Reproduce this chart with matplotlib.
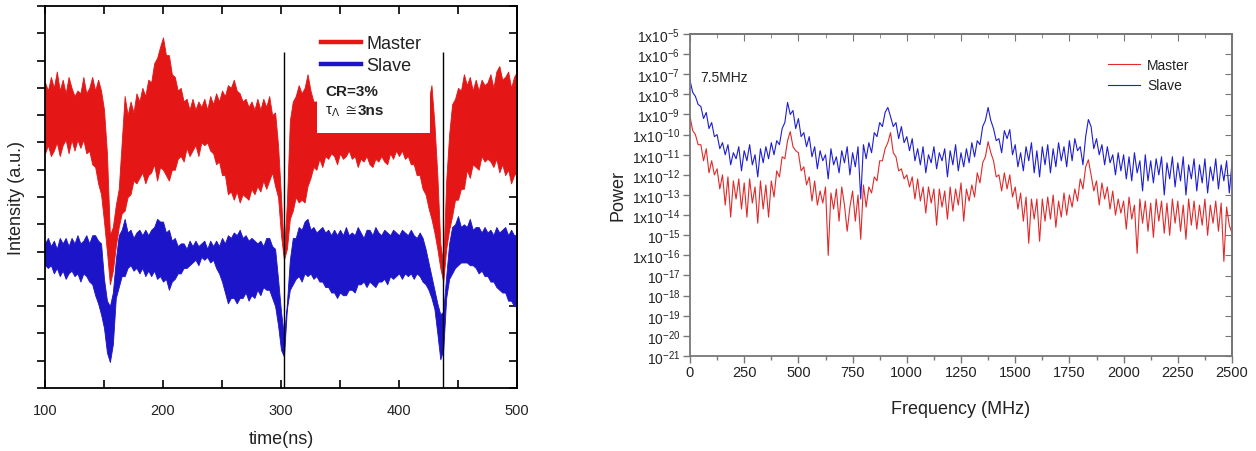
import numpy as np
import matplotlib
matplotlib.use("Agg")
import matplotlib.pyplot as plt
from matplotlib.lines import Line2D
from matplotlib.patches import Rectangle
from matplotlib.ticker import FixedLocator, MultipleLocator, NullFormatter, NullLocator

plt.rcParams['font.family'] = ['Liberation Sans', 'DejaVu Sans']
plt.rcParams['mathtext.fontset'] = 'custom'
plt.rcParams['mathtext.rm'] = 'Liberation Sans'
plt.rcParams['mathtext.it'] = 'Liberation Sans:italic'
plt.rcParams['mathtext.bf'] = 'Liberation Sans:bold'

# ---------------- left panel: time traces (envelopes of the noisy band, a.u.) ----------------
time_step_ns = 2.5
time_start_ns, time_end_ns = 100, 500

master_hi = [
    11.2, 10.9, 11.4, 11.0, 11.6, 10.9, 11.3, 10.8, 11.4, 11.0,
    10.7, 10.9, 10.8, 11.4, 10.8, 11.0, 11.4, 10.9, 11.3, 10.9,
    10.2, 8.6, 5.6, 5.9, 6.7, 7.3, 9.0, 10.7, 10.0, 10.5,
    10.1, 10.8, 10.5, 11.0, 10.7, 11.3, 11.2, 11.9, 12.1, 12.5,
    12.85, 12.2, 12.2, 11.5, 11.4, 10.9, 11.0, 10.5, 10.6, 10.2,
    10.6, 10.2, 10.5, 10.3, 10.6, 10.2, 10.7, 10.4, 10.8, 10.5,
    10.9, 10.7, 11.1, 11.0, 11.3, 10.9, 10.8, 10.5, 10.6, 10.3,
    10.5, 10.2, 10.6, 10.2, 10.6, 10.3, 10.7, 10.0, 10.1, 8.9,
    7.0, 4.9, 6.8, 9.8, 10.5, 10.7, 11.1, 10.8, 11.0, 11.5,
    10.9, 10.5, 10.5, 10.6, 10.4, 10.6, 10.4, 10.6, 10.4, 10.6,
    10.4, 10.6, 10.4, 10.6, 10.4, 10.6, 10.4, 10.6, 10.4, 10.6,
    10.4, 10.6, 10.4, 10.6, 10.4, 10.6, 10.4, 10.6, 10.4, 10.6,
    10.4, 10.6, 10.4, 10.6, 10.4, 10.6, 10.4, 10.6, 10.4, 10.6,
    10.5, 11.1, 9.7, 7.8, 5.3, 4.5, 7.6, 9.3, 10.4, 10.6,
    11.0, 10.9, 11.5, 11.1, 11.4, 10.9, 11.3, 10.9, 11.3, 11.1,
    11.2, 11.5, 11.0, 11.6, 11.8, 11.3, 11.4, 11.6, 11.0, 11.4,
    11.6]

master_lo = [
    8.6, 8.9, 8.5, 8.7, 9.0, 8.5, 8.9, 9.1, 8.6, 9.1,
    8.7, 9.1, 8.8, 9.1, 8.6, 8.7, 8.2, 8.1, 7.5, 7.1,
    6.1, 5.0, 3.8, 4.3, 5.2, 5.9, 6.4, 6.5, 7.0, 7.1,
    7.6, 7.5, 7.7, 7.9, 7.5, 7.8, 7.9, 8.2, 7.6, 8.1,
    8.0, 7.8, 7.6, 8.0, 8.0, 8.4, 8.5, 8.3, 8.8, 8.5,
    8.7, 8.9, 8.5, 9.0, 8.9, 9.0, 8.7, 8.6, 8.2, 8.3,
    7.8, 7.8, 7.1, 7.2, 6.9, 7.2, 6.8, 7.1, 7.0, 6.9,
    7.3, 7.1, 7.4, 7.2, 7.6, 7.3, 7.6, 7.9, 7.4, 7.0,
    5.6, 4.7, 5.1, 6.2, 6.5, 7.0, 6.8, 6.9, 6.8, 7.4,
    7.7, 8.1, 8.0, 8.4, 8.1, 8.5, 8.4, 8.6, 8.5, 8.2,
    8.6, 8.4, 8.5, 8.7, 8.4, 8.5, 8.1, 8.4, 8.3, 8.5,
    8.2, 8.1, 8.4, 8.3, 8.5, 8.3, 8.2, 8.6, 8.4, 8.7,
    8.5, 8.7, 8.4, 8.5, 8.2, 8.2, 7.8, 7.8, 7.3, 7.1,
    6.6, 6.2, 5.7, 5.1, 4.4, 3.9, 5.1, 5.8, 6.3, 6.9,
    6.9, 7.3, 7.3, 8.0, 7.7, 8.2, 8.1, 8.0, 8.5, 8.3,
    8.4, 8.3, 8.1, 8.4, 7.9, 8.2, 7.8, 8.0, 7.5, 7.8,
    7.9]

slave_hi = [
    5.3, 5.5, 5.2, 5.4, 5.1, 5.5, 5.3, 5.5, 5.2, 5.5,
    5.3, 5.6, 5.3, 5.4, 5.6, 5.3, 5.6, 5.6, 5.4, 5.3,
    4.0, 3.2, 3.0, 3.5, 4.7, 5.6, 5.8, 6.2, 5.7, 5.8,
    5.5, 5.7, 5.8, 5.6, 5.8, 5.6, 5.8, 5.9, 6.2, 6.1,
    6.1, 5.7, 5.8, 5.4, 5.5, 5.2, 5.3, 5.3, 5.1, 5.4,
    5.2, 5.4, 5.2, 5.3, 5.4, 5.1, 5.4, 5.2, 5.4, 5.2,
    5.5, 5.3, 5.6, 5.5, 5.7, 5.6, 5.8, 5.5, 5.6, 5.4,
    5.5, 5.4, 5.3, 5.4, 5.2, 5.5, 5.5, 5.2, 5.1, 4.0,
    2.8, 1.9, 3.1, 4.7, 5.5, 5.5, 5.9, 5.8, 6.1, 6.2,
    5.8, 5.9, 5.7, 5.8, 5.9, 5.7, 5.8, 5.6, 5.8, 5.6,
    5.8, 5.6, 5.9, 5.6, 5.7, 5.6, 5.9, 5.7, 5.5, 5.8,
    5.8, 5.6, 5.9, 5.7, 5.6, 5.8, 5.7, 5.6, 5.8, 5.7,
    5.6, 5.8, 5.7, 5.6, 5.8, 5.6, 5.5, 5.7, 5.5, 5.1,
    4.6, 4.1, 3.6, 3.1, 2.7, 2.8, 4.1, 5.3, 5.9, 6.0,
    6.3, 5.9, 6.0, 5.9, 6.2, 5.8, 5.9, 5.9, 5.7, 5.9,
    5.7, 5.8, 5.6, 5.9, 5.7, 5.8, 5.9, 5.6, 5.8, 5.6,
    5.6]

slave_lo = [
    4.5, 4.4, 4.5, 4.2, 4.4, 4.1, 4.3, 4.0, 4.2, 4.3,
    4.1, 4.2, 3.9, 4.2, 4.1, 3.9, 3.8, 3.4, 3.1, 2.7,
    2.2, 1.3, 0.95, 1.6, 3.3, 3.7, 4.1, 4.1, 4.4, 4.5,
    4.3, 4.4, 4.2, 4.4, 4.1, 4.3, 4.1, 4.3, 4.0, 4.1,
    3.9, 4.0, 3.6, 3.9, 4.0, 4.2, 4.2, 4.4, 4.4, 4.5,
    4.6, 4.7, 4.5, 4.8, 4.7, 4.8, 4.6, 4.7, 4.4, 4.2,
    3.9, 3.5, 3.1, 3.3, 3.3, 3.1, 3.3, 3.3, 3.5, 3.2,
    3.4, 3.3, 3.6, 3.4, 3.7, 3.6, 3.6, 3.3, 3.0, 2.3,
    1.4, 1.15, 2.9, 3.6, 3.8, 4.0, 4.1, 3.9, 4.2, 4.1,
    4.2, 4.0, 4.1, 3.9, 3.9, 3.7, 3.7, 3.5, 3.5, 3.3,
    3.5, 3.4, 3.4, 3.6, 3.6, 3.5, 3.8, 3.8, 3.9, 3.7,
    3.9, 3.8, 3.7, 3.9, 3.9, 4.0, 3.8, 4.1, 4.0, 4.1,
    4.2, 4.0, 4.2, 4.1, 4.2, 4.0, 4.2, 4.1, 3.9, 3.8,
    3.6, 3.3, 2.9, 2.0, 1.05, 1.4, 3.3, 4.0, 4.2, 4.4,
    4.5, 4.6, 4.6, 4.6, 4.5, 4.5, 4.4, 4.2, 4.3, 4.1,
    4.1, 3.9, 3.9, 3.7, 3.6, 3.5, 3.5, 3.2, 3.2, 3.0,
    3.0]

marker_times_ns = [302.6, 437.0]
marker_top = 12.3

# ---------------- right panel: power spectra (log10 of power), 12.5 MHz spacing ----------------
freq_max_mhz = 2500
slave_log = [
    -7.3, -7.9, -8.1, -8.5, -8.6, -9.2, -8.9, -9.7, -9.4, -10.1,
    -10.0, -10.7, -10.4, -11.0, -10.5, -11.5, -10.9, -11.2, -10.6, -11.8,
    -10.8, -11.3, -10.5, -11.5, -11.0, -12.1, -10.7, -11.4, -10.6, -11.2,
    -10.4, -11.0, -10.3, -10.5, -9.7, -9.4, -8.4, -9.0, -8.8, -9.7,
    -9.2, -10.1, -9.9, -10.6, -10.1, -11.1, -10.6, -11.7, -10.8, -11.3,
    -11.0, -12.2, -10.7, -11.5, -11.1, -11.9, -10.8, -11.4, -10.6, -12.0,
    -10.9, -11.6, -10.6, -13.2, -10.5, -11.2, -10.4, -10.9, -9.9, -10.1,
    -9.4, -9.6, -8.9, -8.65, -9.1, -9.6, -9.4, -10.2, -9.6, -10.4,
    -10.1, -10.8, -10.2, -11.3, -10.7, -11.5, -10.6, -11.9, -11.0, -11.4,
    -10.6, -11.7, -10.9, -11.3, -10.7, -12.1, -10.8, -11.5, -10.5, -11.8,
    -10.9, -11.6, -10.7, -11.4, -10.4, -11.1, -10.3, -10.5, -9.6, -9.3,
    -8.65, -9.3, -9.7, -10.3, -10.2, -10.9, -9.8, -10.2, -9.75, -11.0,
    -10.5, -11.6, -10.9, -11.8, -10.6, -11.3, -10.4, -11.9, -10.8, -12.1,
    -10.6, -11.5, -10.5, -11.9, -10.7, -11.6, -10.4, -11.3, -10.6, -11.6,
    -10.3, -11.3, -10.2, -10.8, -10.6, -11.5, -10.1, -9.25, -9.6, -10.7,
    -10.2, -11.0, -10.5, -11.5, -10.6, -11.4, -11.0, -12.0, -10.9, -11.8,
    -11.0, -12.2, -11.1, -12.3, -10.9, -11.9, -11.3, -12.8, -11.0, -12.3,
    -11.3, -12.4, -11.2, -12.0, -11.1, -13.0, -11.4, -12.2, -11.1, -12.6,
    -11.4, -12.3, -11.1, -13.0, -11.5, -12.2, -11.2, -12.8, -11.5, -12.4,
    -11.2, -12.9, -11.6, -12.3, -11.2, -12.7, -11.5, -12.3, -11.3, -12.9,
    -11.4]

master_log = [
    -9.1, -9.8, -10.0, -10.5, -10.5, -11.3, -10.7, -11.9, -11.3, -12.0,
    -11.7, -12.7, -12.0, -13.5, -12.1, -14.1, -12.3, -13.2, -12.2, -13.7,
    -12.4, -14.1, -12.2, -13.4, -12.6, -14.4, -12.3, -13.7, -12.5, -14.1,
    -12.3, -13.1, -11.8, -12.1, -11.1, -11.2, -10.3, -9.85, -10.6, -10.8,
    -10.9, -11.8, -11.6, -12.5, -12.1, -13.3, -12.3, -13.5, -12.8, -13.4,
    -12.6, -16.0, -12.9, -13.7, -12.7, -14.3, -12.6, -13.5, -14.8, -13.6,
    -12.8, -14.3, -13.0, -15.2, -12.5, -13.6, -12.6, -12.9, -12.1, -12.3,
    -11.3, -11.3, -10.7, -10.4, -9.9, -10.9, -11.1, -11.8, -11.7, -12.2,
    -12.0, -12.6, -12.1, -13.2, -12.2, -13.3, -12.6, -13.9, -12.6, -13.4,
    -12.7, -14.5, -12.7, -13.6, -12.8, -14.2, -12.6, -13.8, -12.7, -13.5,
    -12.4, -14.3, -12.7, -13.3, -12.5, -13.1, -11.9, -12.4, -11.4, -11.1,
    -10.35, -10.9, -11.3, -12.1, -12.0, -12.8, -11.9, -12.7, -12.0, -13.1,
    -12.6, -13.7, -12.9, -14.3, -13.1, -15.4, -13.2, -14.2, -13.2, -15.3,
    -13.2, -14.3, -13.1, -14.2, -13.0, -14.6, -13.3, -14.1, -12.9, -14.0,
    -13.0, -13.6, -12.7, -13.3, -12.2, -12.7, -11.6, -11.25, -12.0, -12.8,
    -12.3, -13.5, -12.4, -13.2, -12.6, -13.7, -12.8, -14.0, -13.2, -13.9,
    -13.3, -14.7, -13.1, -14.2, -13.5, -15.9, -13.2, -14.4, -13.3, -14.8,
    -13.4, -15.1, -13.2, -14.3, -13.3, -14.9, -13.4, -15.0, -13.2, -14.4,
    -13.3, -14.8, -13.5, -15.2, -13.2, -14.5, -13.3, -14.7, -13.5, -14.5,
    -13.2, -15.0, -13.5, -14.4, -13.3, -14.8, -13.4, -16.3, -13.6, -14.5,
    -14.9]

power_exponents = list(range(-21, -4))
power_tick_labels = {e: (r'$\mathregular{10^{%d}}$' % e if e in (-15, -17, -18, -19, -20, -21)
                         else r'$\mathregular{1x10^{%d}}$' % e) for e in power_exponents}

RED = '#e51616'
BLUE = '#1c14c8'
RED2 = '#e02a2a'
BLUE2 = '#1e1ed2'
TXT = '#222222'

fig = plt.figure(figsize=(12.56, 4.52), dpi=100)

# ================= left panel =================
ax1 = fig.add_axes([45/1256, 1-389/452, 472/1256, 382/452])
t = np.arange(time_start_ns, time_end_ns + 0.01, time_step_ns)
ax1.fill_between(t, slave_lo, slave_hi, color=BLUE, lw=0.6, edgecolor=BLUE, zorder=2)
ax1.fill_between(t, master_lo, master_hi, color=RED, lw=0.6, edgecolor=RED, zorder=2.1)
ax1.vlines(marker_times_ns, 0, marker_top, color='black', lw=1.0, zorder=4)
ax1.add_patch(Rectangle((330.5, 9.35), 95.8, 4.2, facecolor='white', edgecolor='none', zorder=3))
ax1.set_xlim(time_start_ns, time_end_ns)
ax1.set_ylim(0, 14)
ax1.xaxis.set_major_locator(MultipleLocator(100))
ax1.xaxis.set_minor_locator(MultipleLocator(50))
ax1.yaxis.set_major_locator(MultipleLocator(1))
ax1.yaxis.set_major_formatter(NullFormatter())
ax1.tick_params(axis='x', which='both', direction='in', top=True, length=6, width=1.2,
                labelsize=10.5, labelcolor=TXT, pad=11)
ax1.tick_params(axis='y', which='both', direction='out', length=6, width=1.2)
sec = ax1.secondary_yaxis('right')
sec.yaxis.set_major_locator(MultipleLocator(1))
sec.yaxis.set_major_formatter(NullFormatter())
sec.tick_params(direction='in', length=6, width=1.2)
for s in list(ax1.spines.values()) + list(sec.spines.values()):
    s.set_linewidth(1.3)
ax1.set_xlabel('time(ns)', fontsize=13, color=TXT, labelpad=9)
ax1.set_ylabel('Intensity (a.u.)', fontsize=13, color=TXT, labelpad=5)

h1 = [Line2D([], [], color=RED, lw=3.2), Line2D([], [], color=BLUE, lw=3.2)]
leg1 = ax1.legend(h1, ['Master', 'Slave'], loc='upper left', bbox_to_anchor=(0.585, 0.924),
                  frameon=False, fontsize=13, handlelength=2.2, handletextpad=0.3,
                  labelspacing=0.28, borderpad=0, borderaxespad=0)
for tx in leg1.get_texts():
    tx.set_color(TXT)
leg1.set_zorder(5)
ax1.text(337.3, 10.9, 'CR=3%', fontsize=11, fontweight='bold', color=TXT, va='center', zorder=5)
ax1.text(337.3, 10.15, r'$\mathrm{\tau}_{\Lambda}$ $\cong$', fontsize=11, color=TXT, va='center', zorder=5)
ax1.text(365.3, 10.2, '3ns', fontsize=11, fontweight='bold', color=TXT, va='center', zorder=5)

# ================= right panel =================
ax2 = fig.add_axes([690/1256, 1-357/452, 542/1256, 322/452])
f = np.linspace(0, freq_max_mhz, len(slave_log))
ax2.semilogy(f, 10.0 ** np.array(slave_log), color=BLUE2, lw=0.8, label='Slave', zorder=2)
ax2.semilogy(f, 10.0 ** np.array(master_log), color=RED2, lw=0.8, label='Master', zorder=2.1)
ax2.set_xlim(0, freq_max_mhz)
ax2.set_ylim(1e-21, 1e-5)
ax2.xaxis.set_major_locator(MultipleLocator(250))
ax2.xaxis.set_minor_locator(MultipleLocator(125))
ax2.yaxis.set_major_locator(FixedLocator([10.0 ** e for e in power_exponents]))
ax2.yaxis.set_minor_locator(NullLocator())
ax2.set_yticklabels([power_tick_labels[e] for e in power_exponents])
ax2.tick_params(axis='x', which='major', direction='out', length=5, width=1, color='#777777',
                labelsize=10.5, labelcolor=TXT, pad=1.5)
ax2.tick_params(axis='x', which='minor', direction='out', length=3, width=1, color='#777777')
ax2.tick_params(axis='y', which='major', direction='out', length=5, width=1, color='#777777',
                labelsize=10, labelcolor=TXT, pad=2)
secx = ax2.secondary_xaxis('top')
secx.xaxis.set_major_locator(MultipleLocator(250))
secx.xaxis.set_minor_locator(MultipleLocator(125))
secx.xaxis.set_major_formatter(NullFormatter())
secx.tick_params(which='major', direction='in', length=5, color='#777777')
secx.tick_params(which='minor', direction='in', length=3, color='#777777')
secy = ax2.secondary_yaxis('right')
secy.set_yscale('log')
secy.yaxis.set_major_locator(FixedLocator([10.0 ** e for e in power_exponents]))
secy.yaxis.set_minor_locator(NullLocator())
secy.yaxis.set_major_formatter(NullFormatter())
secy.tick_params(direction='in', length=5, color='#777777')
for s in list(ax2.spines.values()) + list(secx.spines.values()) + list(secy.spines.values()):
    s.set_color('#777777')
    s.set_linewidth(1.3)
ax2.set_xlabel('Frequency (MHz)', fontsize=13, color=TXT, labelpad=15)
ax2.set_ylabel('Power', fontsize=13, color=TXT, labelpad=4)
ax2.text(46, 10 ** -7.14, '7.5MHz', fontsize=10, color=TXT, va='center')
handles, labels = ax2.get_legend_handles_labels()
leg2 = ax2.legend(handles[::-1], labels[::-1], loc='upper left', bbox_to_anchor=(0.772, 0.925),
                  frameon=False, fontsize=10, handlelength=2.3, handletextpad=0.5,
                  labelspacing=0.45, borderpad=0, borderaxespad=0)
for tx in leg2.get_texts():
    tx.set_color(TXT)

fig.savefig('out.png', dpi=100)
